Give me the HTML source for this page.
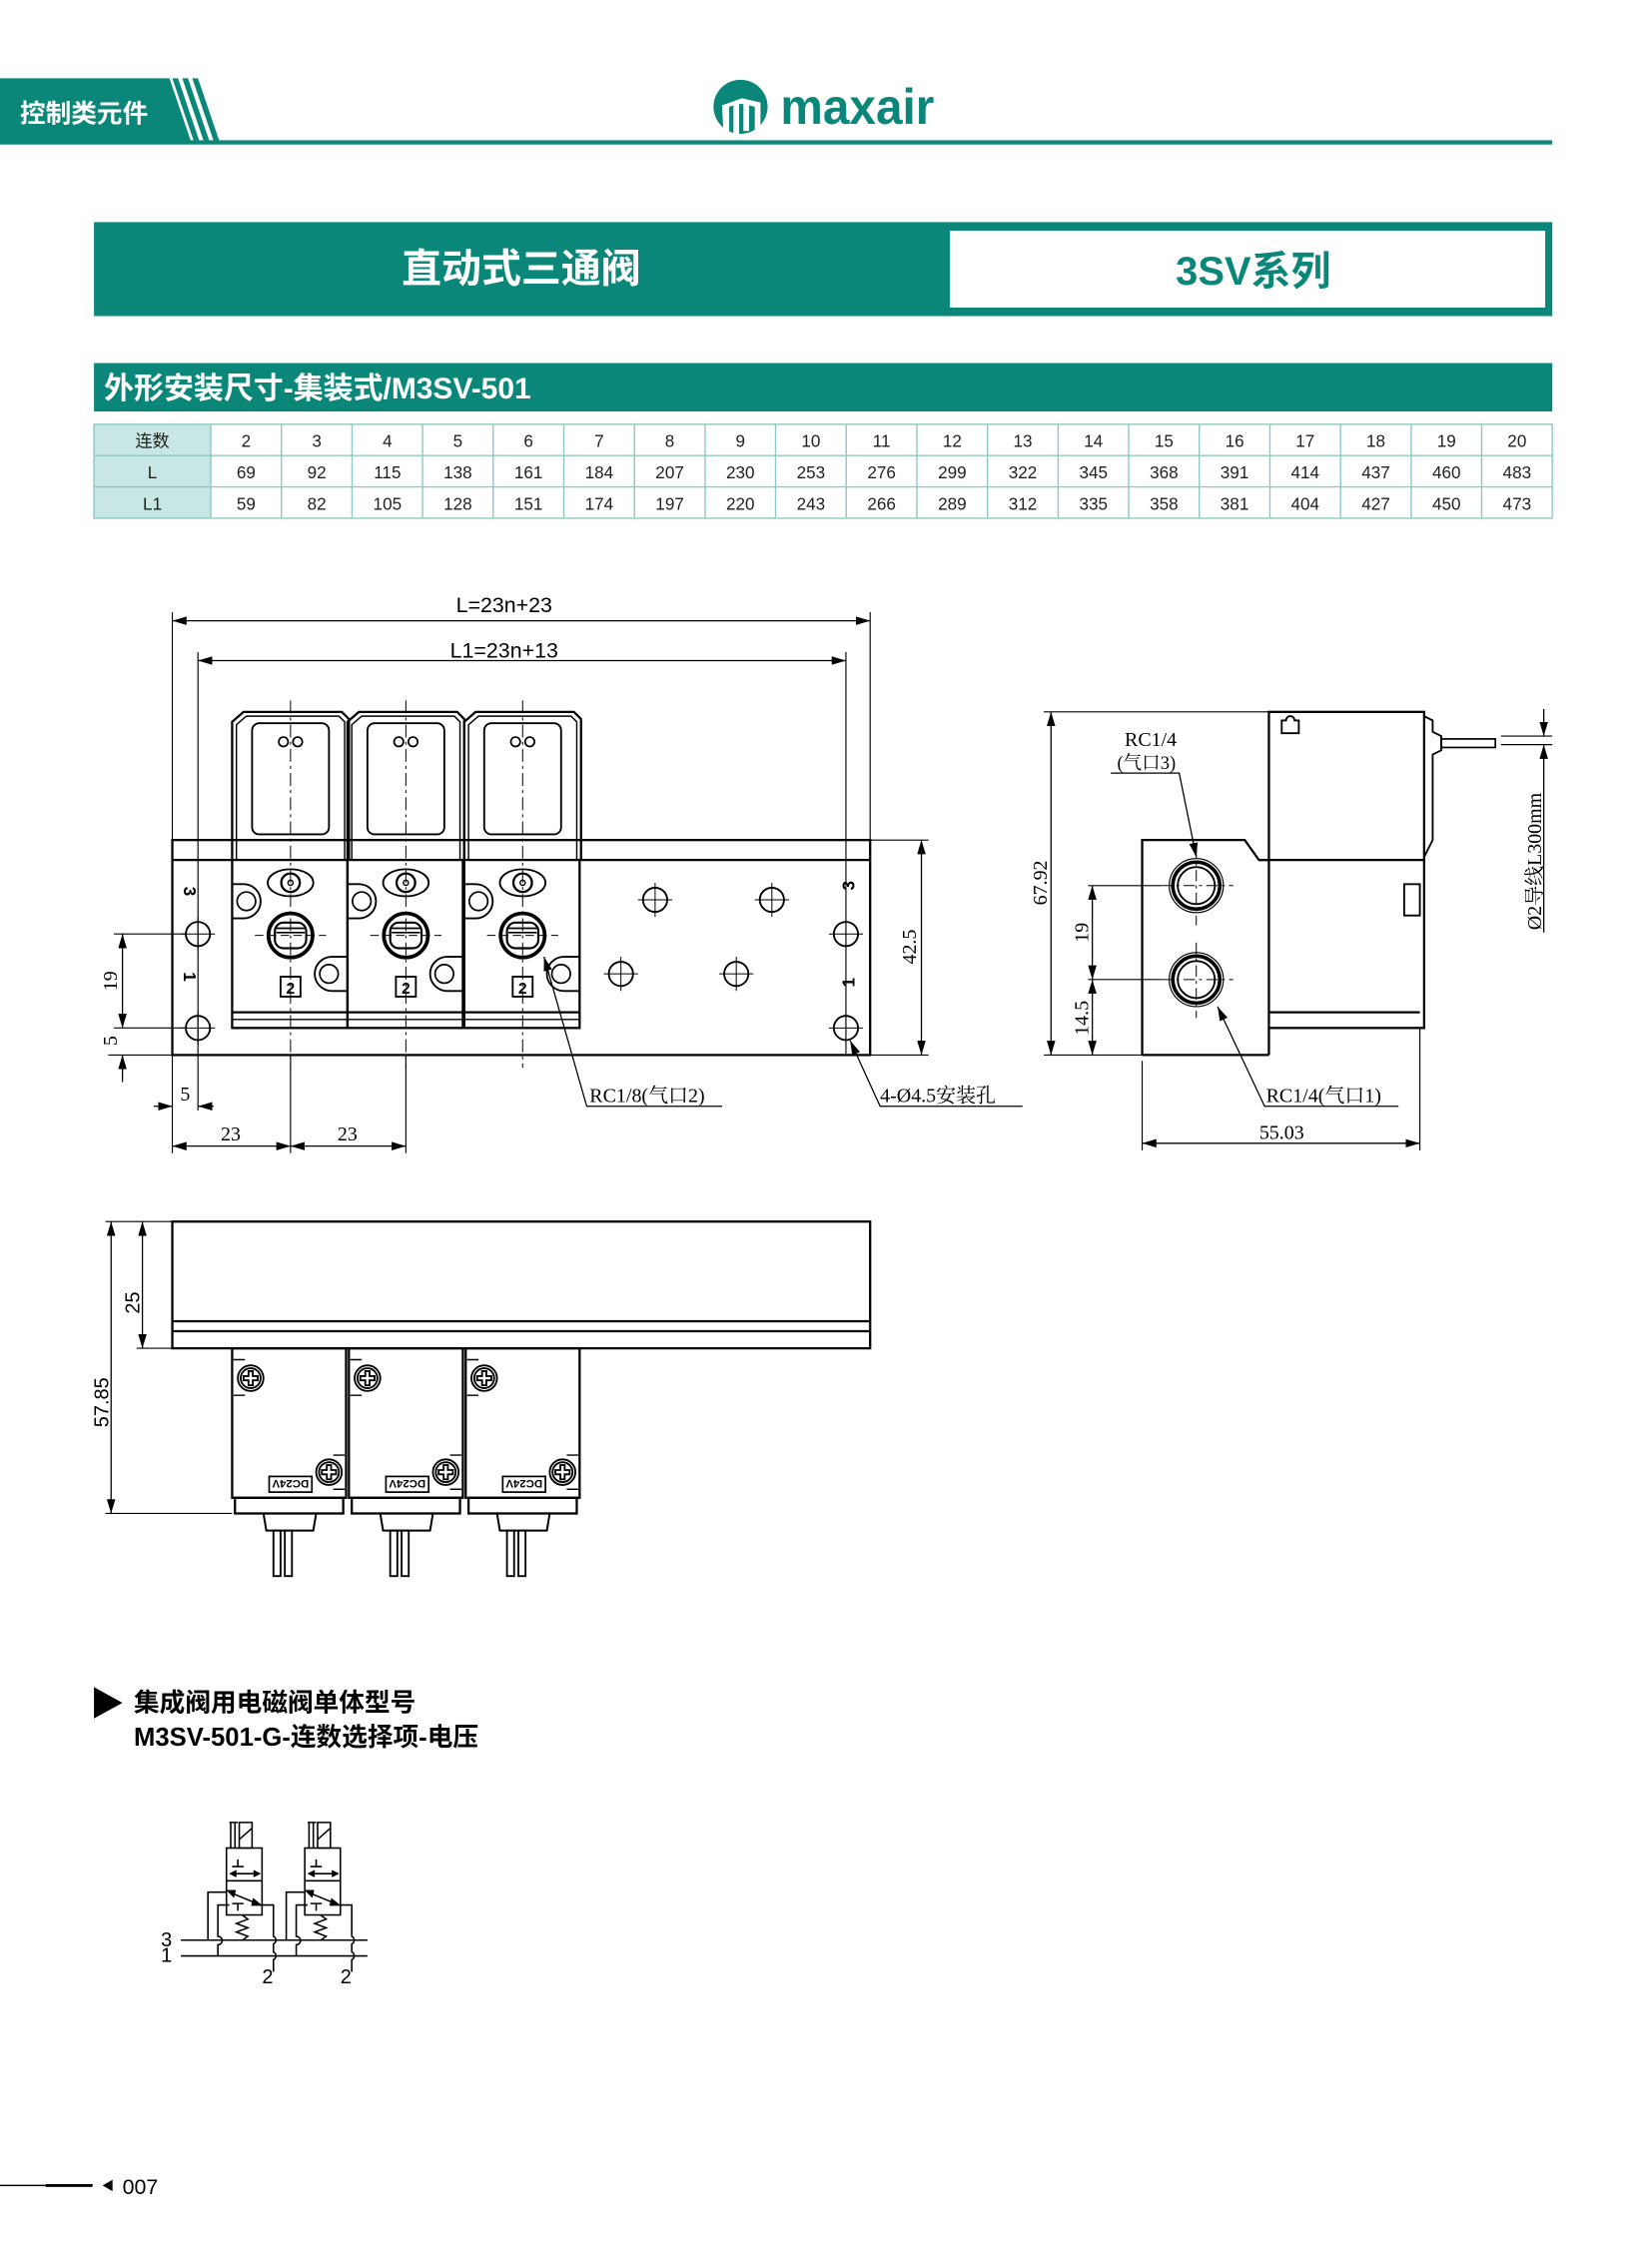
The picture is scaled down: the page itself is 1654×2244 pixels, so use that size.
<!DOCTYPE html>
<html><head><meta charset="utf-8"><style>
html,body{margin:0;padding:0;background:#fff}
svg{display:block}
text{font-family:"Liberation Sans","Noto Sans CJK SC",sans-serif}
.s{font-family:"Liberation Serif","Noto Serif CJK SC",serif}
</style></head><body>
<svg width="1654" height="2244" viewBox="0 0 1160 1574" preserveAspectRatio="none" xmlns="http://www.w3.org/2000/svg">
<defs>
<marker id="a" viewBox="0 0 10 6" refX="10" refY="3" markerWidth="10" markerHeight="6" orient="auto-start-reverse" markerUnits="userSpaceOnUse"><path d="M0,0L10,3L0,6z" fill="#000"/></marker>
<g id="vf" fill="none" stroke="#000">
<path d="M-41,604L-41,507L-33,500L36,500L41,505L41,604" stroke-width="1.6"/>
<path d="M-38,604L-38,509L-31,503L34,503L38,507L38,604" stroke-width="1"/>
<rect x="-27" y="508" width="54" height="78" rx="5" stroke-width="1.3"/>
<circle cx="-5" cy="521" r="3.3" stroke-width="1.2"/><circle cx="5" cy="521" r="3.3" stroke-width="1.2"/>
<rect x="-41" y="604" width="81" height="118" stroke-width="1.6"/>
<line x1="-41" y1="711" x2="40" y2="711" stroke-width="1.6"/><line x1="-41" y1="716" x2="40" y2="716" stroke-width="1"/>
<ellipse cx="0" cy="620" rx="16" ry="9.5" stroke-width="1.3"/><circle cx="0" cy="620" r="6.5" stroke-width="1.6"/><circle cx="0" cy="620" r="1.8"/>
<path d="M-41,621L-33,621A12,12 0 0 1 -21,633L-21,633A12,12 0 0 1 -33,645L-41,645" stroke-width="1.3"/><circle cx="-31" cy="633" r="6.5" stroke-width="1.2"/>
<path d="M40,672L29,672A12,12 0 0 0 17,684A12,12 0 0 0 29,696L40,696" stroke-width="1.3"/><circle cx="27" cy="684" r="6.5" stroke-width="1.2"/>
<circle cx="0" cy="657" r="15.5" stroke-width="2.6"/><rect x="-11" y="648" width="22" height="18" rx="6" stroke-width="1.5"/>
<line x1="-10" y1="652" x2="10" y2="652" stroke-width="1.2"/><line x1="-10" y1="655" x2="10" y2="655" stroke-width="1.2"/>
<line x1="-25" y1="657" x2="25" y2="657" stroke-width="0.7" stroke-dasharray="6,3"/>
<rect x="-7" y="686" width="14" height="14" stroke-width="1.3"/>
<line x1="0" y1="492" x2="0" y2="750" stroke-width="0.7" stroke-dasharray="9,3,2,3"/>
</g>
<g id="hole" fill="none" stroke="#000"><circle r="8.5" stroke-width="1.3"/><line x1="-12" y1="0" x2="12" y2="0" stroke-width="0.7"/><line x1="0" y1="-12" x2="0" y2="12" stroke-width="0.7"/></g>
<g id="scr" fill="none" stroke="#000" stroke-width="1.3"><circle r="9"/><circle r="7"/><path d="M-1.5,-5h3v3.5h3.5v3h-3.5v3.5h-3v-3.5h-3.5v-3h3.5z"/></g>
<g id="vb" fill="none" stroke="#000">
<rect x="0" y="947" width="80" height="105" stroke-width="1.6"/>
<rect x="2" y="1052" width="76" height="11" stroke-width="1.6"/>
<path d="M22,1063L24,1075L57,1075L59,1063" stroke-width="1.4"/>
<rect x="29" y="1075" width="5" height="32" stroke-width="1.3"/><rect x="37" y="1075" width="5" height="32" stroke-width="1.3"/>
<use href="#scr" x="13" y="968"/><use href="#scr" x="68" y="1034"/>
<path d="M1,955h8M1,980h8M79,1022h-8M79,1046h-8" stroke-width="1"/>
<rect x="26" y="1037" width="30" height="11" stroke-width="1.2"/>
</g>
<g id="sym" fill="none" stroke="#000" stroke-width="1.1">
<rect x="159" y="1298" width="25" height="47"/>
<line x1="159" y1="1321" x2="184" y2="1321"/>
<path d="M162,1298V1280M165,1298V1280M161,1280h6M168,1280h9V1298h-9zM168,1292L177,1284"/>
<path d="M167,1306v5M163,1311h8"/>
<path d="M162,1316h20"/><path d="M166,1314l-4,2l4,2M178,1314l4,2l-4,2" fill="#000"/>
<path d="M161,1329L183,1338"/><path d="M178,1334l5,4l-6,0z M165,1328l-5,0l4,4z" fill="#000"/>
<path d="M167,1337v5M163,1337h8"/>
<path d="M170,1345l4,3l-8,3l8,3l-8,3l8,3l-4,3"/>
<path d="M146,1362.7V1329h13"/>
<path d="M153,1373.8V1366a3,3 0 0 0 0,-6V1338h8"/>
<path d="M184,1338h8V1360a3,3 0 0 1 0,5.4V1371a3,3 0 0 1 0,5.4V1385"/>
</g>
</defs>

<!-- header -->
<path d="M0,55H119L134,99H0z" fill="#0b8779"/>
<path d="M121,55h4l15,44h-4zM128,55h4l15,44h-4zM135,55h4l15,44h-4z" fill="#0b8779"/>
<rect x="0" y="98.5" width="1090" height="3" fill="#0b8779"/>
<text x="14" y="86" font-size="18" fill="#fff" font-weight="bold">控制类元件</text>
<circle cx="520" cy="75" r="19" fill="#0b8779"/>
<path d="M507,74l14,-5l13,3v20h-4v-17l-4,-1v18h-4v-19l-3,0v21h-4v-20l-3,1v18h-4z" fill="#fff"/>
<text x="548" y="87" font-size="35" font-weight="bold" fill="#0b8779" textLength="108" lengthAdjust="spacingAndGlyphs">maxair</text>

<!-- title -->
<rect x="66" y="156" width="1024" height="66" fill="#0b8779"/>
<rect x="667" y="162" width="418" height="54" fill="#fff"/>
<text x="366" y="198" font-size="28" font-weight="bold" fill="#fff" text-anchor="middle">直动式三通阀</text>
<text x="880" y="200" font-size="28" font-weight="bold" fill="#0b8779" text-anchor="middle">3SV系列</text>
<rect x="66" y="255" width="1024" height="34" fill="#0b8779"/>
<text x="73" y="280" font-size="21" font-weight="bold" fill="#fff">外形安装尺寸-集装式/M3SV-501</text>

<!-- table -->
<rect x="66" y="298" width="82" height="66" fill="#c8e6e3"/>
<g stroke="#8fc9c3" stroke-width="1" fill="none">
<rect x="66" y="298" width="1024" height="66"/>
<line x1="66" y1="320" x2="1090" y2="320"/><line x1="66" y1="342" x2="1090" y2="342"/>
<path d="M148,298V364M197.6,298V364M247.2,298V364M296.7,298V364M346.3,298V364M395.9,298V364M445.5,298V364M495.1,298V364M544.6,298V364M594.2,298V364M643.8,298V364M693.4,298V364M743,298V364M792.5,298V364M842.1,298V364M891.7,298V364M941.3,298V364M990.9,298V364M1040.4,298V364"/>
</g>
<g font-size="12" text-anchor="middle" fill="#222">
<text x="107" y="314">连数</text><text x="107" y="336">L</text><text x="107" y="358">L1</text>
<text x="172.8" y="314">2</text><text x="222.4" y="314">3</text><text x="272" y="314">4</text><text x="321.5" y="314">5</text><text x="371.1" y="314">6</text><text x="420.7" y="314">7</text><text x="470.3" y="314">8</text><text x="519.9" y="314">9</text><text x="569.4" y="314">10</text><text x="619" y="314">11</text><text x="668.6" y="314">12</text><text x="718.2" y="314">13</text><text x="767.8" y="314">14</text><text x="817.3" y="314">15</text><text x="866.9" y="314">16</text><text x="916.5" y="314">17</text><text x="966.1" y="314">18</text><text x="1015.7" y="314">19</text><text x="1065.2" y="314">20</text>
<text x="172.8" y="336">69</text><text x="222.4" y="336">92</text><text x="272" y="336">115</text><text x="321.5" y="336">138</text><text x="371.1" y="336">161</text><text x="420.7" y="336">184</text><text x="470.3" y="336">207</text><text x="519.9" y="336">230</text><text x="569.4" y="336">253</text><text x="619" y="336">276</text><text x="668.6" y="336">299</text><text x="718.2" y="336">322</text><text x="767.8" y="336">345</text><text x="817.3" y="336">368</text><text x="866.9" y="336">391</text><text x="916.5" y="336">414</text><text x="966.1" y="336">437</text><text x="1015.7" y="336">460</text><text x="1065.2" y="336">483</text>
<text x="172.8" y="358">59</text><text x="222.4" y="358">82</text><text x="272" y="358">105</text><text x="321.5" y="358">128</text><text x="371.1" y="358">151</text><text x="420.7" y="358">174</text><text x="470.3" y="358">197</text><text x="519.9" y="358">220</text><text x="569.4" y="358">243</text><text x="619" y="358">266</text><text x="668.6" y="358">289</text><text x="718.2" y="358">312</text><text x="767.8" y="358">335</text><text x="817.3" y="358">358</text><text x="866.9" y="358">381</text><text x="916.5" y="358">404</text><text x="966.1" y="358">427</text><text x="1015.7" y="358">450</text><text x="1065.2" y="358">473</text>
</g>

<!-- front view -->
<g fill="none" stroke="#000">
<rect x="121" y="590" width="490" height="151" stroke-width="1.6"/>
<path d="M121,604H163M407,604H611" stroke-width="1.6"/>
<g stroke-width="0.8">
<line x1="121" y1="430" x2="121" y2="590"/><line x1="611" y1="430" x2="611" y2="590"/>
<line x1="139" y1="458" x2="139" y2="780"/><line x1="594" y1="458" x2="594" y2="740"/>
<line x1="121" y1="741" x2="121" y2="810"/><line x1="204" y1="741" x2="204" y2="810"/><line x1="285" y1="741" x2="285" y2="810"/>
<line x1="611" y1="590" x2="652" y2="590"/><line x1="611" y1="741" x2="652" y2="741"/>
<line x1="80" y1="656" x2="130" y2="656"/><line x1="80" y1="722" x2="130" y2="722"/><line x1="76" y1="741" x2="121" y2="741"/>
</g>
<g stroke-width="0.9">
<line x1="121" y1="436" x2="611" y2="436" marker-start="url(#a)" marker-end="url(#a)"/>
<line x1="139" y1="464" x2="594" y2="464" marker-start="url(#a)" marker-end="url(#a)"/>
<line x1="647" y1="590" x2="647" y2="741" marker-start="url(#a)" marker-end="url(#a)"/>
<line x1="86" y1="656" x2="86" y2="722" marker-start="url(#a)" marker-end="url(#a)"/>
<line x1="86" y1="760" x2="86" y2="741" marker-end="url(#a)"/>
<line x1="108" y1="777" x2="121" y2="777" marker-end="url(#a)"/><line x1="150" y1="777" x2="139" y2="777" marker-end="url(#a)"/>
<line x1="121" y1="805" x2="204" y2="805" marker-start="url(#a)" marker-end="url(#a)"/>
<line x1="204" y1="805" x2="285" y2="805" marker-start="url(#a)" marker-end="url(#a)"/>
<path d="M507,777H412L382,672" marker-end="url(#a)"/>
<path d="M718,777H618L597,731" marker-end="url(#a)"/>
</g>
</g>
<use href="#vf" x="204"/><use href="#vf" x="285"/><use href="#vf" x="367"/>
<g font-size="11" font-weight="bold" text-anchor="middle"><text x="204" y="698">2</text><text x="285" y="698">2</text><text x="367" y="698">2</text></g>
<use href="#hole" x="139" y="656"/><use href="#hole" x="139" y="722"/><use href="#hole" x="594" y="656"/><use href="#hole" x="594" y="722"/>
<use href="#hole" x="460" y="632"/><use href="#hole" x="542" y="632"/><use href="#hole" x="436" y="684"/><use href="#hole" x="517" y="684"/>
<g font-size="12" font-weight="bold">
<text transform="translate(129,626) rotate(90)" text-anchor="middle">3</text>
<text transform="translate(129,686) rotate(90)" text-anchor="middle">1</text>
<text transform="translate(600,622) rotate(-90)" text-anchor="middle">3</text>
<text transform="translate(600,690) rotate(-90)" text-anchor="middle">1</text>
</g>
<g font-size="15" text-anchor="middle">
<text x="354" y="430">L=23n+23</text><text x="354" y="462">L1=23n+13</text>
</g>
<g class="s" font-size="14" text-anchor="middle">
<text transform="translate(643,665) rotate(-90)" class="s">42.5</text>
<text transform="translate(82,689) rotate(-90)" class="s">19</text>
<text transform="translate(82,731) rotate(-90)" class="s">5</text>
<text x="130" y="773" class="s">5</text>
<text x="162" y="801" class="s">23</text><text x="244" y="801" class="s">23</text>
</g>
<text x="414" y="774" font-size="14" class="s">RC1/8(气口2)</text>
<text x="618" y="774" font-size="14" class="s">4-Ø4.5安装孔</text>

<!-- side view -->
<g fill="none" stroke="#000">
<path d="M802,741V590H874L884,604H891" stroke-width="1.6"/>
<path d="M891,741H802" stroke-width="1.6"/>
<rect x="891" y="500" width="109" height="222" stroke-width="1.6"/>
<line x1="884" y1="604" x2="1000" y2="604" stroke-width="1.6"/>
<line x1="891" y1="711" x2="997" y2="711" stroke-width="1.6"/>
<line x1="891" y1="722" x2="891" y2="741" stroke-width="1.6"/>
<path d="M1000,503L1006,506V514L1012,517V527L1006,530V590L1000,602" stroke-width="1.3"/>
<rect x="1012" y="519" width="38" height="6" stroke-width="1.2"/>
<path d="M900,515V506h3a3,3 0 0 1 6,0h3v9z" stroke-width="1.3"/>
<rect x="986" y="621" width="11" height="22" stroke-width="1.3"/>
<circle cx="840" cy="622" r="19" stroke-width="0.8"/><circle cx="840" cy="622" r="16.5" stroke-width="2.5"/><circle cx="840" cy="622" r="13" stroke-width="1.3"/>
<circle cx="840" cy="688" r="19" stroke-width="0.8"/><circle cx="840" cy="688" r="16.5" stroke-width="2.5"/><circle cx="840" cy="688" r="13" stroke-width="1.3"/>
<g stroke-width="0.7" stroke-dasharray="8,3,2,3"><path d="M840,595V650M815,622H866M840,662V715M815,688H866"/></g>
<g stroke-width="0.8">
<line x1="733" y1="500" x2="891" y2="500"/><line x1="733" y1="741" x2="802" y2="741"/>
<line x1="764" y1="622" x2="815" y2="622"/><line x1="764" y1="688" x2="815" y2="688"/>
<line x1="802" y1="745" x2="802" y2="808"/><line x1="997" y1="722" x2="997" y2="808"/>
<line x1="1054" y1="517" x2="1090" y2="517"/><line x1="1054" y1="523" x2="1090" y2="523"/>
</g>
<g stroke-width="0.9">
<line x1="738" y1="500" x2="738" y2="741" marker-start="url(#a)" marker-end="url(#a)"/>
<line x1="767" y1="622" x2="767" y2="688" marker-start="url(#a)" marker-end="url(#a)"/>
<line x1="767" y1="688" x2="767" y2="741" marker-start="url(#a)" marker-end="url(#a)"/>
<line x1="802" y1="803" x2="997" y2="803" marker-start="url(#a)" marker-end="url(#a)"/>
<line x1="1084" y1="498" x2="1084" y2="517" marker-end="url(#a)"/>
<line x1="1084" y1="545" x2="1084" y2="523" marker-end="url(#a)"/>
<line x1="1084" y1="545" x2="1084" y2="655"/>
<path d="M780,543H828L840,602" marker-end="url(#a)"/>
<path d="M982,777H888L855,707" marker-end="url(#a)"/>
</g>
</g>
<text transform="translate(735,620) rotate(-90)" text-anchor="middle" font-size="14" class="s">67.92</text>
<text transform="translate(764,655) rotate(-90)" text-anchor="middle" font-size="14" class="s">19</text>
<text transform="translate(764,715) rotate(-90)" text-anchor="middle" font-size="14" class="s">14.5</text>
<text x="900" y="800" text-anchor="middle" font-size="14" class="s">55.03</text>
<text x="808" y="524" text-anchor="middle" font-size="14" class="s">RC1/4</text>
<text x="805" y="540" text-anchor="middle" font-size="13" class="s">(气口3)</text>
<text x="889" y="774" font-size="14" class="s">RC1/4(气口1)</text>
<text transform="translate(1082,605) rotate(-90)" text-anchor="middle" font-size="14" class="s">Ø2导线L300mm</text>

<!-- bottom view -->
<g fill="none" stroke="#000">
<rect x="121" y="858" width="490" height="89" stroke-width="1.6"/>
<line x1="121" y1="928" x2="611" y2="928" stroke-width="1.6"/>
<line x1="121" y1="935" x2="611" y2="935" stroke-width="1.6"/>
<g stroke-width="0.8"><line x1="74" y1="858" x2="121" y2="858"/><line x1="96" y1="947" x2="121" y2="947"/><line x1="74" y1="1063" x2="163" y2="1063"/></g>
<g stroke-width="0.9">
<line x1="100" y1="858" x2="100" y2="947" marker-start="url(#a)" marker-end="url(#a)"/>
<line x1="78" y1="858" x2="78" y2="1063" marker-start="url(#a)" marker-end="url(#a)"/>
</g>
</g>
<use href="#vb" x="163"/><use href="#vb" x="245"/><use href="#vb" x="327"/>
<g font-size="8" font-weight="bold" text-anchor="middle">
<text transform="translate(204,1039.5) rotate(180)">DC24V</text>
<text transform="translate(286,1039.5) rotate(180)">DC24V</text>
<text transform="translate(368,1039.5) rotate(180)">DC24V</text>
</g>
<text transform="translate(98,915) rotate(-90)" text-anchor="middle" font-size="14">25</text>
<text transform="translate(76,985) rotate(-90)" text-anchor="middle" font-size="14">57.85</text>

<!-- model text -->
<path d="M66,1185L86,1196L66,1207z" fill="#000"/>
<text x="94" y="1202" font-size="18" font-weight="bold">集成阀用电磁阀单体型号</text>
<text x="94" y="1226" font-size="18" font-weight="bold">M3SV-501-G-连数选择项-电压</text>

<!-- symbol -->
<use href="#sym"/><use href="#sym" x="55"/>
<g stroke="#000" stroke-width="1.1"><line x1="127" y1="1362.7" x2="258" y2="1362.7"/><line x1="127" y1="1373.8" x2="258" y2="1373.8"/></g>
<g font-size="14"><text x="113" y="1367">3</text><text x="113" y="1378">1</text><text x="184" y="1393">2</text><text x="239" y="1393">2</text></g>

<!-- footer -->
<line x1="0" y1="1535" x2="32" y2="1535" stroke="#000" stroke-width="1"/>
<line x1="32" y1="1535" x2="65" y2="1535" stroke="#000" stroke-width="2"/>
<path d="M72,1535L79,1531V1539z" fill="#000"/>
<text x="86" y="1541" font-size="15">007</text>
</svg>
</body></html>
